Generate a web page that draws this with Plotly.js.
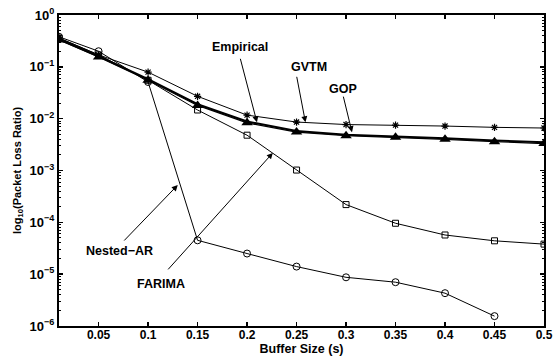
<!DOCTYPE html>
<html><head><meta charset="utf-8">
<script src="https://cdn.plot.ly/plotly-3.0.1.min.js"></script>
<style>html,body{margin:0;padding:0;background:#fff}#plot{width:553px;height:358px}</style>
</head><body><div id="plot"></div>
<script>
const bufferSize = [0.01, 0.05, 0.1, 0.15, 0.2, 0.25, 0.3, 0.35, 0.4, 0.45, 0.5];
const empirical = [0.34, 0.16, 0.058, 0.019, 0.0088, 0.0058, 0.0049, 0.0046, 0.0042, 0.0038, 0.0035];
const gop       = [0.33, 0.155, 0.055, 0.018, 0.0083, 0.0055, 0.0047, 0.0044, 0.0040, 0.0036, 0.0033];
const gvtm      = [0.36, 0.17, 0.079, 0.027, 0.0117, 0.0086, 0.0077, 0.0075, 0.0072, 0.0068, 0.0066];
const nestedAR  = [0.36, 0.17, 0.055, 0.0147, 0.0048, 0.00102, 0.00022, 0.000096, 0.000057, 0.000044, 0.000038];
const farimaX   = [0.01, 0.05, 0.1, 0.15, 0.2, 0.25, 0.3, 0.35, 0.4, 0.45];
const farima    = [0.38, 0.2, 0.051, 0.000045, 0.000025, 0.000014, 0.0000087, 0.000007, 0.0000043, 0.00000155];
const xTicks = [0.05, 0.1, 0.15, 0.2, 0.25, 0.3, 0.35, 0.4, 0.45, 0.5];
const xTickText = ['0.05', '0.1', '0.15', '0.2', '0.25', '0.3', '0.35', '0.4', '0.45', '0.5'];
const yTicks = [1, 0.1, 0.01, 0.001, 0.0001, 0.00001, 0.000001];
const yTickText = ['10<sup>0</sup>', '10<sup>\u22121</sup>', '10<sup>\u22122</sup>', '10<sup>\u22123</sup>', '10<sup>\u22124</sup>', '10<sup>\u22125</sup>', '10<sup>\u22126</sup>'];
const labels = ['Empirical', 'GVTM', 'GOP', 'Nested\u2212AR', 'FARIMA'];

const minorVals = [];
for (let e = -6; e < 0; e++) for (let m = 2; m <= 9; m++) minorVals.push(m * Math.pow(10, e));

const W = 553, H = 358, ML = 59, MR = 9, MT = 15, MB = 32;
const F = 'Liberation Sans, Arial, sans-serif';
const thin = {color: '#000', width: 1};
const traces = [
  {x: bufferSize, y: nestedAR, mode: 'lines+markers', line: thin,
   marker: {symbol: 'square-open', size: 6, color: '#000', line: {width: 1}}},
  {x: farimaX, y: farima, mode: 'lines+markers', line: thin,
   marker: {symbol: 'circle-open', size: 7, color: '#000', line: {width: 1}}},
  {x: bufferSize, y: gvtm, mode: 'lines+markers', line: thin,
   marker: {symbol: 'asterisk-open', size: 6, color: '#000', line: {width: 1.2}}},
  {x: bufferSize, y: gop, mode: 'lines+markers', line: {color: '#000', width: 1.2},
   marker: {symbol: 'triangle-up', size: 10, color: '#000'}},
  {x: bufferSize, y: empirical, mode: 'lines', line: {color: '#000', width: 2}}
];

function arrow(x, y, ax, ay) {
  return {x: x, y: y, xref: 'x', yref: 'y', ax: ax, ay: ay, text: '', showarrow: true,
    arrowhead: 2, arrowsize: 1.2, arrowwidth: 1, arrowcolor: '#000', standoff: 0, startstandoff: 0};
}
function label(t, px, py) {
  return {x: (px - ML) / (W - ML - MR), y: 1 - (py - MT) / (H - MT - MB), xref: 'paper', yref: 'paper',
    text: '<b>' + t + '</b>', showarrow: false, xanchor: 'center', yanchor: 'middle',
    font: {family: F, size: 12.5, color: '#000'}};
}

const layout = {
  width: W, height: H,
  margin: {l: ML, r: MR, t: MT, b: MB},
  paper_bgcolor: '#fff', plot_bgcolor: '#fff',
  showlegend: false,
  font: {family: F, size: 12, color: '#000'},
  xaxis: {
    range: [0.01, 0.5], tickmode: 'array', tickvals: xTicks, ticktext: xTickText.map(s => '<b>' + s + '</b>'),
    ticks: 'inside', ticklen: 4, tickwidth: 1.5, tickcolor: '#000', ticklabelstandoff: -3,
    showline: true, linewidth: 2, linecolor: '#000', mirror: 'ticks',
    showgrid: false, zeroline: false,
    tickfont: {family: F, size: 12, color: '#000'},
    title: {text: '<b>Buffer Size (s)</b>', font: {family: F, size: 12.5, color: '#000'}, standoff: 0}
  },
  yaxis: {
    type: 'log', range: [-6, 0], tickmode: 'array', tickvals: yTicks, ticktext: yTickText.map(s => '<b>' + s + '</b>'),
    ticks: 'inside', ticklen: 4, tickwidth: 1.5, tickcolor: '#000',
    minor: {tickmode: 'array', tickvals: minorVals, ticks: 'inside', ticklen: 2, tickwidth: 1, tickcolor: '#000', showgrid: false},
    showline: true, linewidth: 2, linecolor: '#000', mirror: 'ticks',
    showgrid: false, zeroline: false,
    tickfont: {family: F, size: 13, color: '#000'},
    title: {text: '<b>log<sub>10</sub>(Packet Loss Ratio)</b>', font: {family: F, size: 11, color: '#000'}, standoff: 6}
  },
  annotations: [
    label(labels[0], 240, 47), arrow(0.21, -2.07, -17, -65),
    label(labels[1], 309, 67), arrow(0.259, -2.07, -9, -47),
    label(labels[2], 343, 89), arrow(0.306, -2.26, -9, -37),
    label(labels[3], 119, 251), arrow(0.13, -3.28, -55, 57),
    label(labels[4], 161, 284), arrow(0.226, -2.66, -106, 118)
  ]
};
Plotly.newPlot('plot', traces, layout, {displayModeBar: false, staticPlot: true});
</script></body></html>
